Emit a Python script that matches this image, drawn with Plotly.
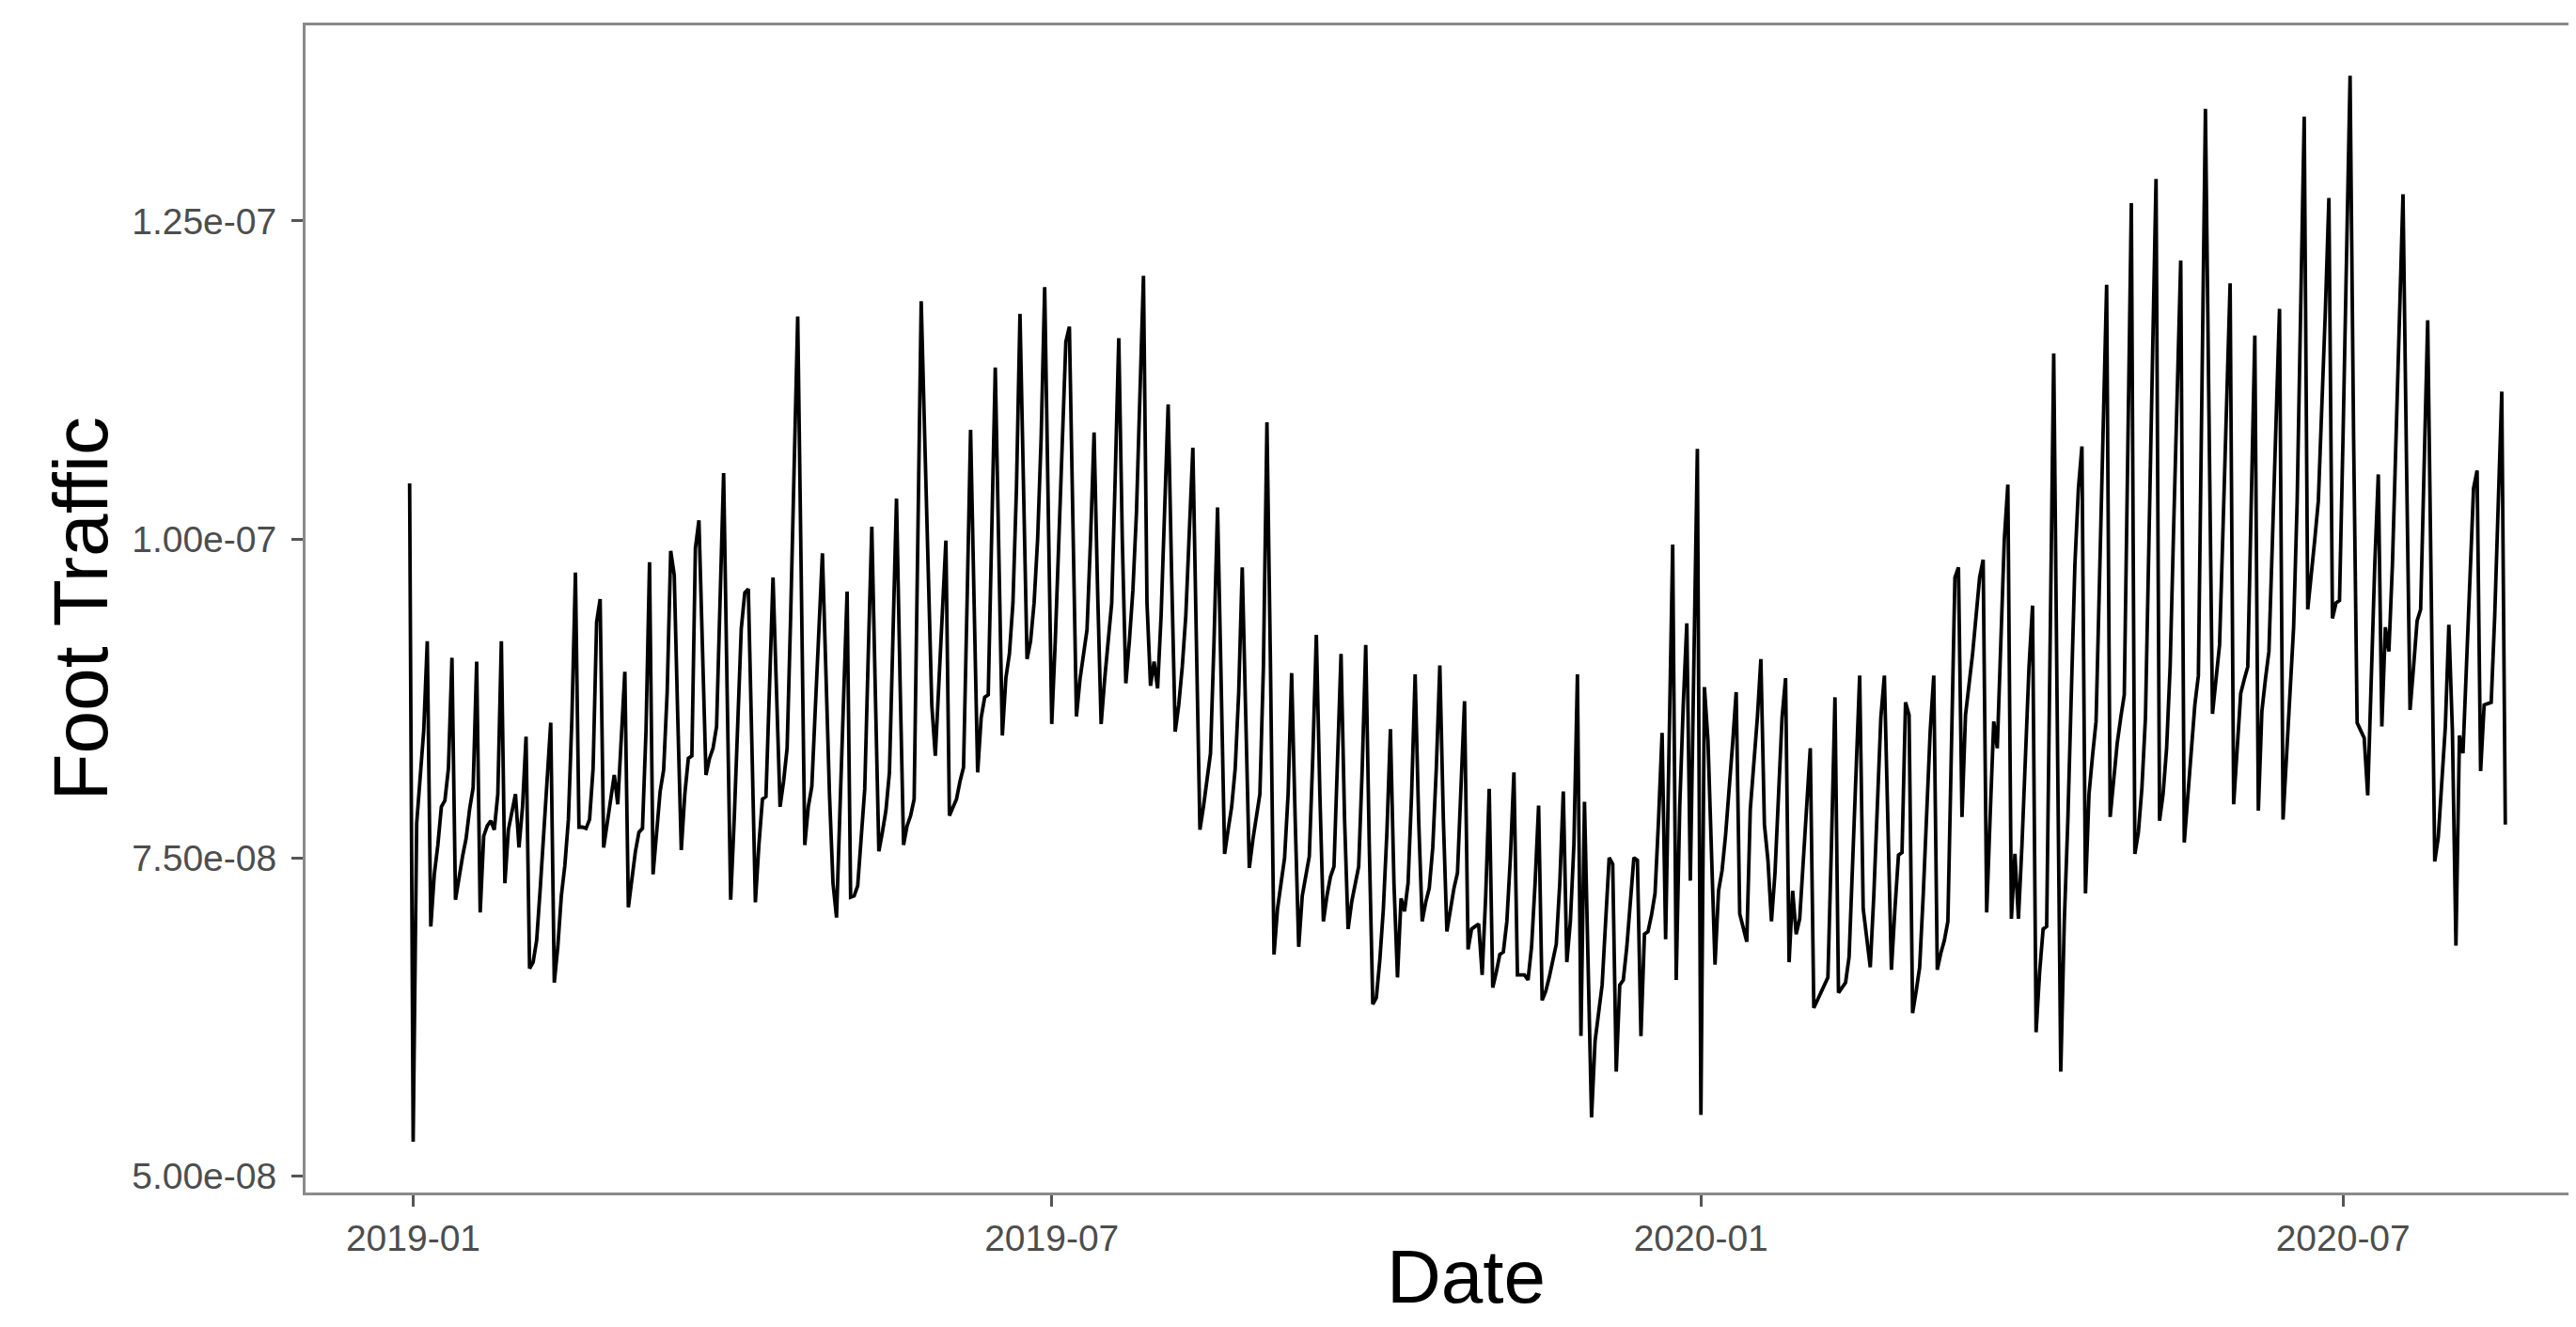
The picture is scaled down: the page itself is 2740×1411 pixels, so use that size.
import pandas as pd
import plotly.graph_objects as go

# Daily foot traffic, in units of 1e-9, one row per week (Mon..Sun), starting Mon 2018-12-31
weeks_e9 = [
    [104.4, 52.7, 77.7, 81.0, 85.0, 92.0, 69.6],
    [73.7, 76.0, 79.0, 79.5, 82.0, 90.7, 71.7],
    [73.5, 75.1, 76.5, 78.8, 80.5, 90.4, 70.7],
    [76.7, 77.5, 77.9, 77.2, 80.0, 92.0, 73.0],
    [77.2, 78.5, 80.0, 75.8, 79.0, 84.5, 66.3],
    [66.8, 68.5, 72.5, 77.0, 80.5, 85.6, 65.2],
    [68.0, 72.0, 74.4, 78.0, 86.0, 97.4, 77.4],
    [77.4, 77.3, 78.0, 82.0, 93.5, 95.3, 75.8],
    [77.7, 79.5, 81.5, 79.2, 84.0, 89.6, 71.1],
    [73.5, 75.5, 77.0, 77.3, 85.0, 98.2, 73.7],
    [77.0, 80.2, 81.9, 88.0, 99.1, 97.2, 86.0],
    [75.6, 80.0, 82.8, 83.0, 99.3, 101.5, 91.0],
    [81.5, 82.8, 83.6, 85.3, 95.0, 105.2, 88.0],
    [71.7, 78.0, 86.0, 93.0, 95.8, 96.1, 84.0],
    [71.5, 76.0, 79.6, 79.8, 88.0, 97.0, 88.0],
    [79.0, 81.0, 83.6, 94.0, 105.0, 117.5, 97.0],
    [76.0, 79.0, 80.6, 86.8, 93.0, 98.9, 89.5],
    [80.0, 73.0, 70.3, 79.0, 87.5, 95.9, 71.9],
    [72.0, 72.8, 76.5, 80.4, 91.0, 101.0, 88.0],
    [75.5, 77.0, 78.7, 81.7, 92.0, 103.2, 89.0],
    [76.0, 77.5, 78.3, 79.6, 99.0, 118.7, 108.0],
    [97.5, 87.0, 83.0, 89.0, 94.5, 99.9, 78.3],
    [79.0, 79.6, 81.0, 82.1, 95.0, 108.6, 95.0],
    [81.7, 86.0, 87.6, 87.8, 100.0, 113.5, 99.0],
    [84.6, 89.1, 91.0, 95.0, 104.0, 117.7, 103.0],
    [90.6, 92.0, 95.0, 100.0, 108.0, 119.8, 102.0],
    [85.5, 92.0, 100.0, 108.0, 115.5, 116.7, 100.0],
    [86.1, 89.0, 91.0, 92.9, 100.0, 108.4, 96.0],
    [85.5, 89.0, 92.0, 95.0, 105.0, 115.8, 100.0],
    [88.7, 92.0, 96.0, 102.0, 111.0, 120.7, 95.0],
    [88.5, 90.4, 88.3, 94.0, 102.0, 110.6, 97.0],
    [84.9, 87.0, 90.0, 94.0, 100.0, 107.2, 92.0],
    [77.2, 79.0, 81.0, 83.2, 92.0, 102.5, 89.0],
    [75.3, 77.2, 79.0, 82.0, 88.0, 97.8, 86.0],
    [74.2, 76.4, 78.0, 80.0, 90.0, 109.2, 90.0],
    [67.4, 71.0, 73.0, 75.0, 80.0, 89.5, 78.0],
    [68.0, 72.0, 73.5, 75.1, 83.0, 92.5, 80.0],
    [70.0, 72.0, 73.5, 74.3, 82.0, 91.0, 78.0],
    [69.4, 71.5, 73.0, 74.3, 82.0, 91.7, 76.0],
    [63.5, 64.0, 67.0, 71.0, 77.0, 85.1, 73.0],
    [65.6, 71.8, 70.8, 73.0, 80.0, 89.4, 78.0],
    [70.0, 71.5, 72.6, 75.8, 82.0, 90.1, 78.0],
    [69.2, 71.0, 72.6, 73.8, 80.0, 87.3, 67.8],
    [69.4, 69.6, 69.8, 65.8, 72.0, 80.4, 64.8],
    [66.0, 67.4, 67.6, 70.0, 75.0, 81.7, 65.8],
    [65.8, 65.8, 65.4, 68.0, 73.0, 79.1, 63.8],
    [64.5, 65.6, 67.0, 68.2, 73.0, 80.2, 66.8],
    [70.0, 76.0, 89.4, 61.0, 79.4, 67.0, 54.6],
    [60.6, 63.0, 65.0, 70.0, 75.0, 74.5, 58.2],
    [65.0, 65.4, 68.0, 72.0, 75.0, 74.8, 61.0],
    [69.0, 69.2, 70.5, 72.2, 78.0, 84.8, 68.6],
    [84.0, 99.6, 65.4, 79.0, 87.0, 93.4, 73.2],
    [90.0, 107.1, 54.8, 88.4, 84.2, 75.5, 66.6],
    [72.4, 74.0, 76.8, 80.0, 84.0, 88.0, 70.6],
    [69.5, 68.4, 78.8, 82.0, 86.0, 90.6, 77.6],
    [74.8, 70.0, 73.8, 80.0, 86.0, 89.1, 66.8],
    [72.4, 69.0, 70.2, 75.0, 80.0, 83.6, 63.2],
    [63.8, 64.4, 65.0, 65.6, 76.0, 87.6, 64.4],
    [64.8, 65.2, 67.2, 75.0, 83.0, 89.3, 71.0],
    [68.5, 66.4, 72.0, 80.0, 86.0, 89.3, 78.0],
    [66.2, 71.0, 75.2, 75.4, 87.2, 86.2, 62.8],
    [64.5, 66.4, 72.0, 79.0, 85.0, 89.3, 66.2],
    [67.5, 68.5, 70.0, 84.0, 97.0, 97.8, 78.2],
    [86.2, 88.5, 91.0, 94.0, 97.0, 98.4, 70.7],
    [78.4, 85.7, 83.6, 92.0, 100.0, 104.3, 70.2],
    [75.3, 70.2, 76.0, 84.0, 90.0, 94.8, 61.3],
    [66.0, 69.4, 69.6, 92.0, 114.6, 86.0, 58.2],
    [70.0, 77.9, 88.0, 98.0, 104.0, 107.3, 72.2],
    [80.0, 83.0, 85.7, 97.0, 109.0, 120.0, 78.2],
    [81.0, 84.0, 86.0, 87.8, 107.0, 126.4, 75.3],
    [77.0, 80.5, 86.0, 100.0, 114.0, 128.3, 77.9],
    [80.0, 83.6, 90.0, 101.0, 112.0, 121.9, 76.2],
    [80.0, 84.0, 87.0, 89.3, 111.0, 133.8, 110.0],
    [86.3, 89.0, 91.7, 101.0, 111.0, 120.1, 79.2],
    [84.0, 87.9, 89.0, 90.0, 103.0, 116.0, 78.7],
    [86.5, 89.0, 91.2, 100.0, 109.0, 118.1, 78.0],
    [83.0, 88.0, 93.1, 103.0, 118.0, 133.2, 94.5],
    [97.0, 100.0, 103.0, 110.0, 118.0, 126.8, 93.8],
    [95.0, 95.2, 108.0, 122.0, 136.4, 108.0, 85.6],
    [85.0, 84.4, 79.9, 90.0, 98.0, 105.1, 85.3],
    [93.1, 91.2, 98.0, 108.0, 118.0, 127.1, 106.0],
    [86.6, 90.0, 93.6, 94.5, 106.0, 117.2, 96.0],
    [74.7, 76.6, 81.0, 85.3, 93.3, 85.0, 68.1],
    [84.6, 83.2, 90.3, 97.0, 104.0, 105.4, 81.8],
    [87.0, 87.1, 87.2, 94.0, 103.0, 111.6, 77.6],
]
start_date = "2018-12-31"

x_tick_vals = ["2019-01-01", "2019-07-01", "2020-01-01", "2020-07-01"]
x_tick_text = ["2019-01", "2019-07", "2020-01", "2020-07"]
y_tick_vals = [5.0e-08, 7.5e-08, 1.0e-07, 1.25e-07]
y_tick_text = ["5.00e-08", "7.50e-08", "1.00e-07", "1.25e-07"]

values = [v * 1e-9 for row in weeks_e9 for v in row]
dates = pd.date_range(start_date, periods=len(values), freq="D")

FONT = "Liberation Sans, Arial, Helvetica, sans-serif"
BORDER = "#8a8a8a"

fig = go.Figure()
fig.add_trace(go.Scatter(
    x=dates, y=values, mode="lines",
    line=dict(color="black", width=3.8),
    showlegend=False, hoverinfo="skip",
))

axis_common = dict(
    showgrid=False, zeroline=False,
    showline=True, linecolor=BORDER, linewidth=3,
    ticks="outside", ticklen=12, tickwidth=3, tickcolor="#555555",
    tickfont=dict(family=FONT, size=39, color="#4D4D4D"),
)

fig.update_layout(
    width=2740, height=1411,
    margin=dict(l=317, r=0, t=19, b=151, pad=0),
    paper_bgcolor="white", plot_bgcolor="white",
    font=dict(family=FONT),
    xaxis=dict(
        type="date",
        range=["2018-12-01 12:00", "2020-09-07 04:00"],
        tickvals=x_tick_vals, ticktext=x_tick_text,
        mirror=True,
        **axis_common,
    ),
    yaxis=dict(
        range=[4.871e-08, 1.4036e-07],
        tickvals=y_tick_vals, ticktext=y_tick_text,
        mirror=False,
        ticklabelstandoff=8,
        **axis_common,
    ),
    annotations=[
        dict(text="Date", xref="paper", yref="paper", x=0.5095, y=-0.072,
             xanchor="center", yanchor="middle", showarrow=False,
             font=dict(family=FONT, size=80, color="black")),
        dict(text="Foot Traffic", xref="paper", yref="paper", x=-0.0990, y=0.5,
             xanchor="center", yanchor="middle", textangle=-90, showarrow=False,
             font=dict(family=FONT, size=82, color="black")),
    ],
)

fig.write_html("out.html")
